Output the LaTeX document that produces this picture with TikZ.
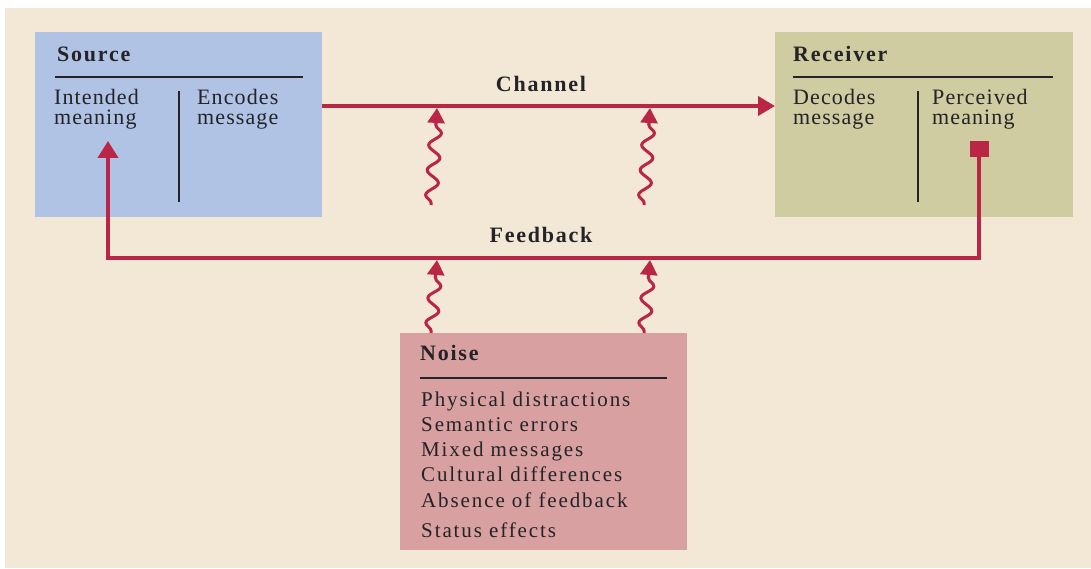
\documentclass[tikz,border=0pt]{standalone}
\usepackage{fontspec}
\setmainfont{Liberation Serif}
\newfontfamily\bodyfont[LetterSpace=5]{Liberation Serif}
\newfontfamily\noisefont[LetterSpace=9]{Liberation Serif}
\newfontfamily\titlefont[LetterSpace=8]{Liberation Serif}
\usetikzlibrary{arrows.meta,decorations.pathmorphing}
\definecolor{bg}{RGB}{243,232,214}
\definecolor{srcblue}{RGB}{177,195,228}
\definecolor{rcvolive}{RGB}{206,204,160}
\definecolor{noisered}{RGB}{216,160,160}
\definecolor{linered}{RGB}{185,38,70}
\definecolor{ink}{RGB}{35,35,40}
\tikzset{
  panel/.style={rectangle, draw=none, inner sep=0pt, outer sep=0pt, anchor=north west},
  titletext/.style={anchor=base west, inner sep=0pt, text=ink, font=\titlefont\bfseries\fontsize{22}{22}\selectfont},
  labeltext/.style={anchor=base, inner sep=0pt, text=ink, font=\titlefont\bfseries\fontsize{22}{22}\selectfont},
  bodytext/.style={anchor=base west, inner sep=0pt, align=left, text=ink, font=\bodyfont\fontsize{22}{20}\selectfont},
  noisetext/.style={anchor=base west, inner sep=0pt, align=left, text=ink, font=\noisefont\fontsize{21}{25.2}\selectfont},
  rule/.style={draw=ink, line width=2pt},
  redline/.style={draw=linered, line width=4pt},
  redarrow/.style={redline, -{Triangle[length=17pt,width=19pt]}},
  wave/.style={draw=linered, line width=3pt, decorate,
    decoration={snake, segment length=25pt, amplitude=6pt, post length=14pt, pre length=2pt},
    -{Triangle[length=15pt,width=17pt]}},
}
\begin{document}
\begin{tikzpicture}[x=1pt,y=-1pt]
\useasboundingbox (0,0) rectangle (1091,569);
\fill[white] (0,0) rectangle (1091,569);
\fill[bg] (5,8) rectangle (1091,568);

% panels
\node[panel, fill=srcblue, minimum width=287pt, minimum height=185pt] (src) at (35,32) {};
\node[panel, fill=rcvolive, minimum width=298pt, minimum height=185pt] (rcv) at (775,32) {};
\node[panel, fill=noisered, minimum width=287pt, minimum height=217pt] (noise) at (400,333) {};

% source content
\node[titletext] (srctitle) at (57,62) {Source};
\draw[rule] (55,77) -- (303,77);
\node[bodytext] (intended) at (54,125) {Intended\\meaning};
\node[bodytext] (encodes) at (197,125) {Encodes\\message};
\draw[rule] (179,91) -- (179,202);

% receiver content
\node[titletext] (rcvtitle) at (793,62) {Receiver};
\draw[rule] (793,77) -- (1053,77);
\node[bodytext] (decodes) at (793,125) {Decodes\\message};
\node[bodytext] (perceived) at (932,125) {Perceived\\meaning};
\draw[rule] (918,91) -- (918,202);

% noise content
\node[titletext] (noisetitle) at (420,360) {Noise};
\draw[rule] (420,378) -- (667,378);
\node[noisetext] (items) at (421,537) {Physical distractions\\Semantic errors\\Mixed messages\\Cultural differences\\Absence of feedback\\[4.8pt]Status effects};

% channel
\node[labeltext] (chanlabel) at (541,92) {Channel};
\draw[redarrow] (src.east |- 0,106) -- (rcv.west |- 0,106);

% feedback
\node[labeltext] (fblabel) at (541,242) {Feedback};
\node[rectangle, fill=linered, minimum width=19pt, minimum height=16pt, inner sep=0pt] (sq) at (979,149) {};
\coordinate (fbcorner) at (108,258);
\coordinate (fbtip) at (108,141);
\draw[redline, -{Triangle[length=17pt,width=20pt]}] (sq.south) |- (fbcorner) -- (fbtip);

% noise waves
\coordinate (w1s) at (431,205); \coordinate (w1e) at (437,108);
\coordinate (w2s) at (644,205); \coordinate (w2e) at (650,108);
\coordinate (w3e) at (437,260); \coordinate (w4e) at (650,260);
\draw[wave] (w1s) -- (w1e);
\draw[wave] (w2s) -- (w2e);
\draw[wave] (noise.north west -| 431,0) -- (w3e);
\draw[wave] (noise.north west -| 644,0) -- (w4e);
\end{tikzpicture}
\end{document}
